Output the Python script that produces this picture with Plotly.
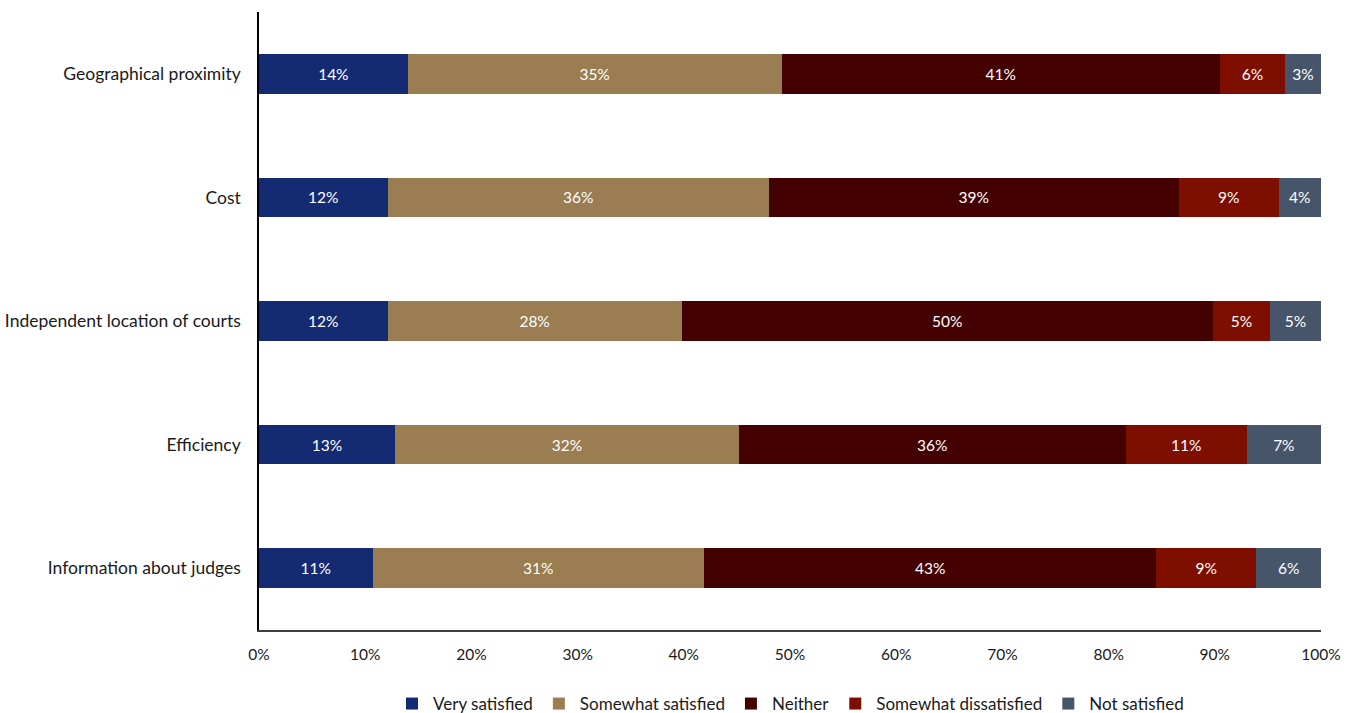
import plotly.graph_objects as go

categories = [
    "Geographical proximity",
    "Cost",
    "Independent location of courts",
    "Efficiency",
    "Information about judges",
]
series_names = [
    "Very satisfied",
    "Somewhat satisfied",
    "Neither",
    "Somewhat dissatisfied",
    "Not satisfied",
]
very_satisfied = [14.0, 12.1, 12.1, 12.8, 10.7]
somewhat_satisfied = [35.2, 35.9, 27.7, 32.4, 31.2]
neither = [41.3, 38.6, 50.0, 36.4, 42.6]
somewhat_dissatisfied = [6.1, 9.4, 5.4, 11.4, 9.4]
not_satisfied = [3.4, 4.0, 4.8, 7.0, 6.1]
x_tick_values = [0, 10, 20, 30, 40, 50, 60, 70, 80, 90, 100]
x_tick_labels = ["0%", "10%", "20%", "30%", "40%", "50%", "60%", "70%", "80%", "90%", "100%"]

colors = ["#142A72", "#9A7D50", "#430101", "#7E0F00", "#465569"]
series_values = [very_satisfied, somewhat_satisfied, neither, somewhat_dissatisfied, not_satisfied]

FONT = "Lato, 'Open Sans', sans-serif"

fig = go.Figure()
for name, vals, col in zip(series_names, series_values, colors):
    fig.add_trace(go.Bar(
        y=categories,
        x=vals,
        name=name,
        orientation="h",
        marker=dict(color=col, line=dict(width=0)),
        texttemplate="%{x:.0f}%",
        textposition="inside",
        insidetextanchor="middle",
        textfont=dict(color="white", size=15.5, family=FONT),
        hovertemplate="%{y}: %{x:.1f}%<extra>" + name + "</extra>",
    ))

fig.update_layout(
    barmode="stack",
    bargap=0.68,
    width=1357,
    height=713,
    margin=dict(l=259, r=36, t=12, b=83, autoexpand=False),
    paper_bgcolor="white",
    plot_bgcolor="white",
    font=dict(family=FONT, size=15, color="#1a1a1a"),
    uniformtext=dict(minsize=10, mode="show"),
    legend=dict(
        orientation="h",
        x=0.5,
        xanchor="center",
        xref="paper",
        y=(713 - 704) / 713,
        yref="container",
        yanchor="middle",
        font=dict(size=17, family=FONT, color="#1a1a1a"),
        traceorder="normal",
        itemwidth=32,
    ),
    xaxis=dict(
        range=[0, 100],
        tickvals=x_tick_values,
        ticktext=x_tick_labels,
        showgrid=False,
        zeroline=False,
        showline=True,
        linecolor="#404040",
        linewidth=1.5,
        ticks="",
        ticklabelstandoff=10,
        tickfont=dict(size=15.5, family=FONT, color="#1a1a1a"),
        fixedrange=True,
    ),
    yaxis=dict(
        autorange="reversed",
        showgrid=False,
        zeroline=False,
        showline=True,
        linecolor="#000000",
        linewidth=1.5,
        ticks="",
        ticklabelstandoff=13,
        tickfont=dict(size=17.5, family=FONT, color="#1a1a1a"),
        fixedrange=True,
    ),
)

fig.write_html("out.html")
